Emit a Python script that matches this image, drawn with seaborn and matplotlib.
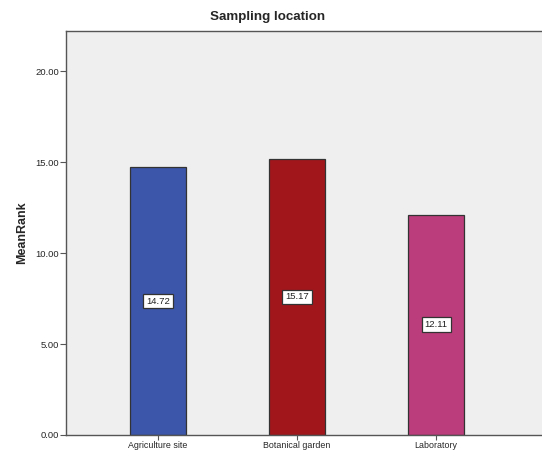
import pandas as pd
import seaborn as sns
import matplotlib.pyplot as plt

locations = ["Agriculture site", "Botanical garden", "Laboratory"]
mean_rank = [14.72, 15.17, 12.11]
bar_colors = ["#3C56A9", "#A1161B", "#BB3D7B"]
y_ticks = [0, 5, 10, 15, 20]

df = pd.DataFrame({"location": locations, "MeanRank": mean_rank})

sns.set_style("white")
plt.rcParams["font.family"] = ["Liberation Sans", "DejaVu Sans"]

fig = plt.figure(figsize=(5.42, 4.5), dpi=100)
ax = fig.add_axes([66 / 542, 1 - 435 / 450, 1 - 66 / 542, (435 - 31) / 450])
ax.set_facecolor("#EFEFEF")

sns.barplot(
    data=df, x="location", y="MeanRank", hue="location",
    palette=dict(zip(locations, bar_colors)), order=locations,
    width=0.4, edgecolor="#333333", linewidth=0.9, saturation=1,
    legend=False, ax=ax,
)

# value labels in boxes, centred halfway up each bar
for i, v in enumerate(mean_rank):
    ax.text(i, v / 2, f"{v:.2f}", ha="center", va="center", fontsize=6.8,
            color="#222222",
            bbox=dict(boxstyle="square,pad=0.3", facecolor="white",
                      edgecolor="#333333", linewidth=0.9))

ax.set_xlim(-0.66, 2.76)
ax.set_ylim(0, 22.2)
ax.set_yticks(y_ticks)
ax.set_yticklabels([f"{t:.2f}" for t in y_ticks], fontsize=6.8)
ax.tick_params(axis="x", labelsize=6.4, length=3.5, width=0.8, color="#555555", pad=0.5)
ax.tick_params(axis="y", length=4, width=0.8, color="#555555", pad=1, left=True)
ax.tick_params(axis="x", bottom=True)
ax.set_xlabel("")
ax.set_ylabel("MeanRank", fontsize=9, fontweight="bold", labelpad=5)
# title is centred on the whole image, not on the clipped plot area
ax.set_title("Sampling location", fontsize=9.6, fontweight="bold", pad=8,
             x=(268 - 66) / 476)

for side in ["left", "bottom", "top"]:
    ax.spines[side].set_visible(True)
    ax.spines[side].set_color("#555555")
    ax.spines[side].set_linewidth(1.0)
ax.spines["right"].set_visible(False)

fig.savefig("out.png", dpi=100)
